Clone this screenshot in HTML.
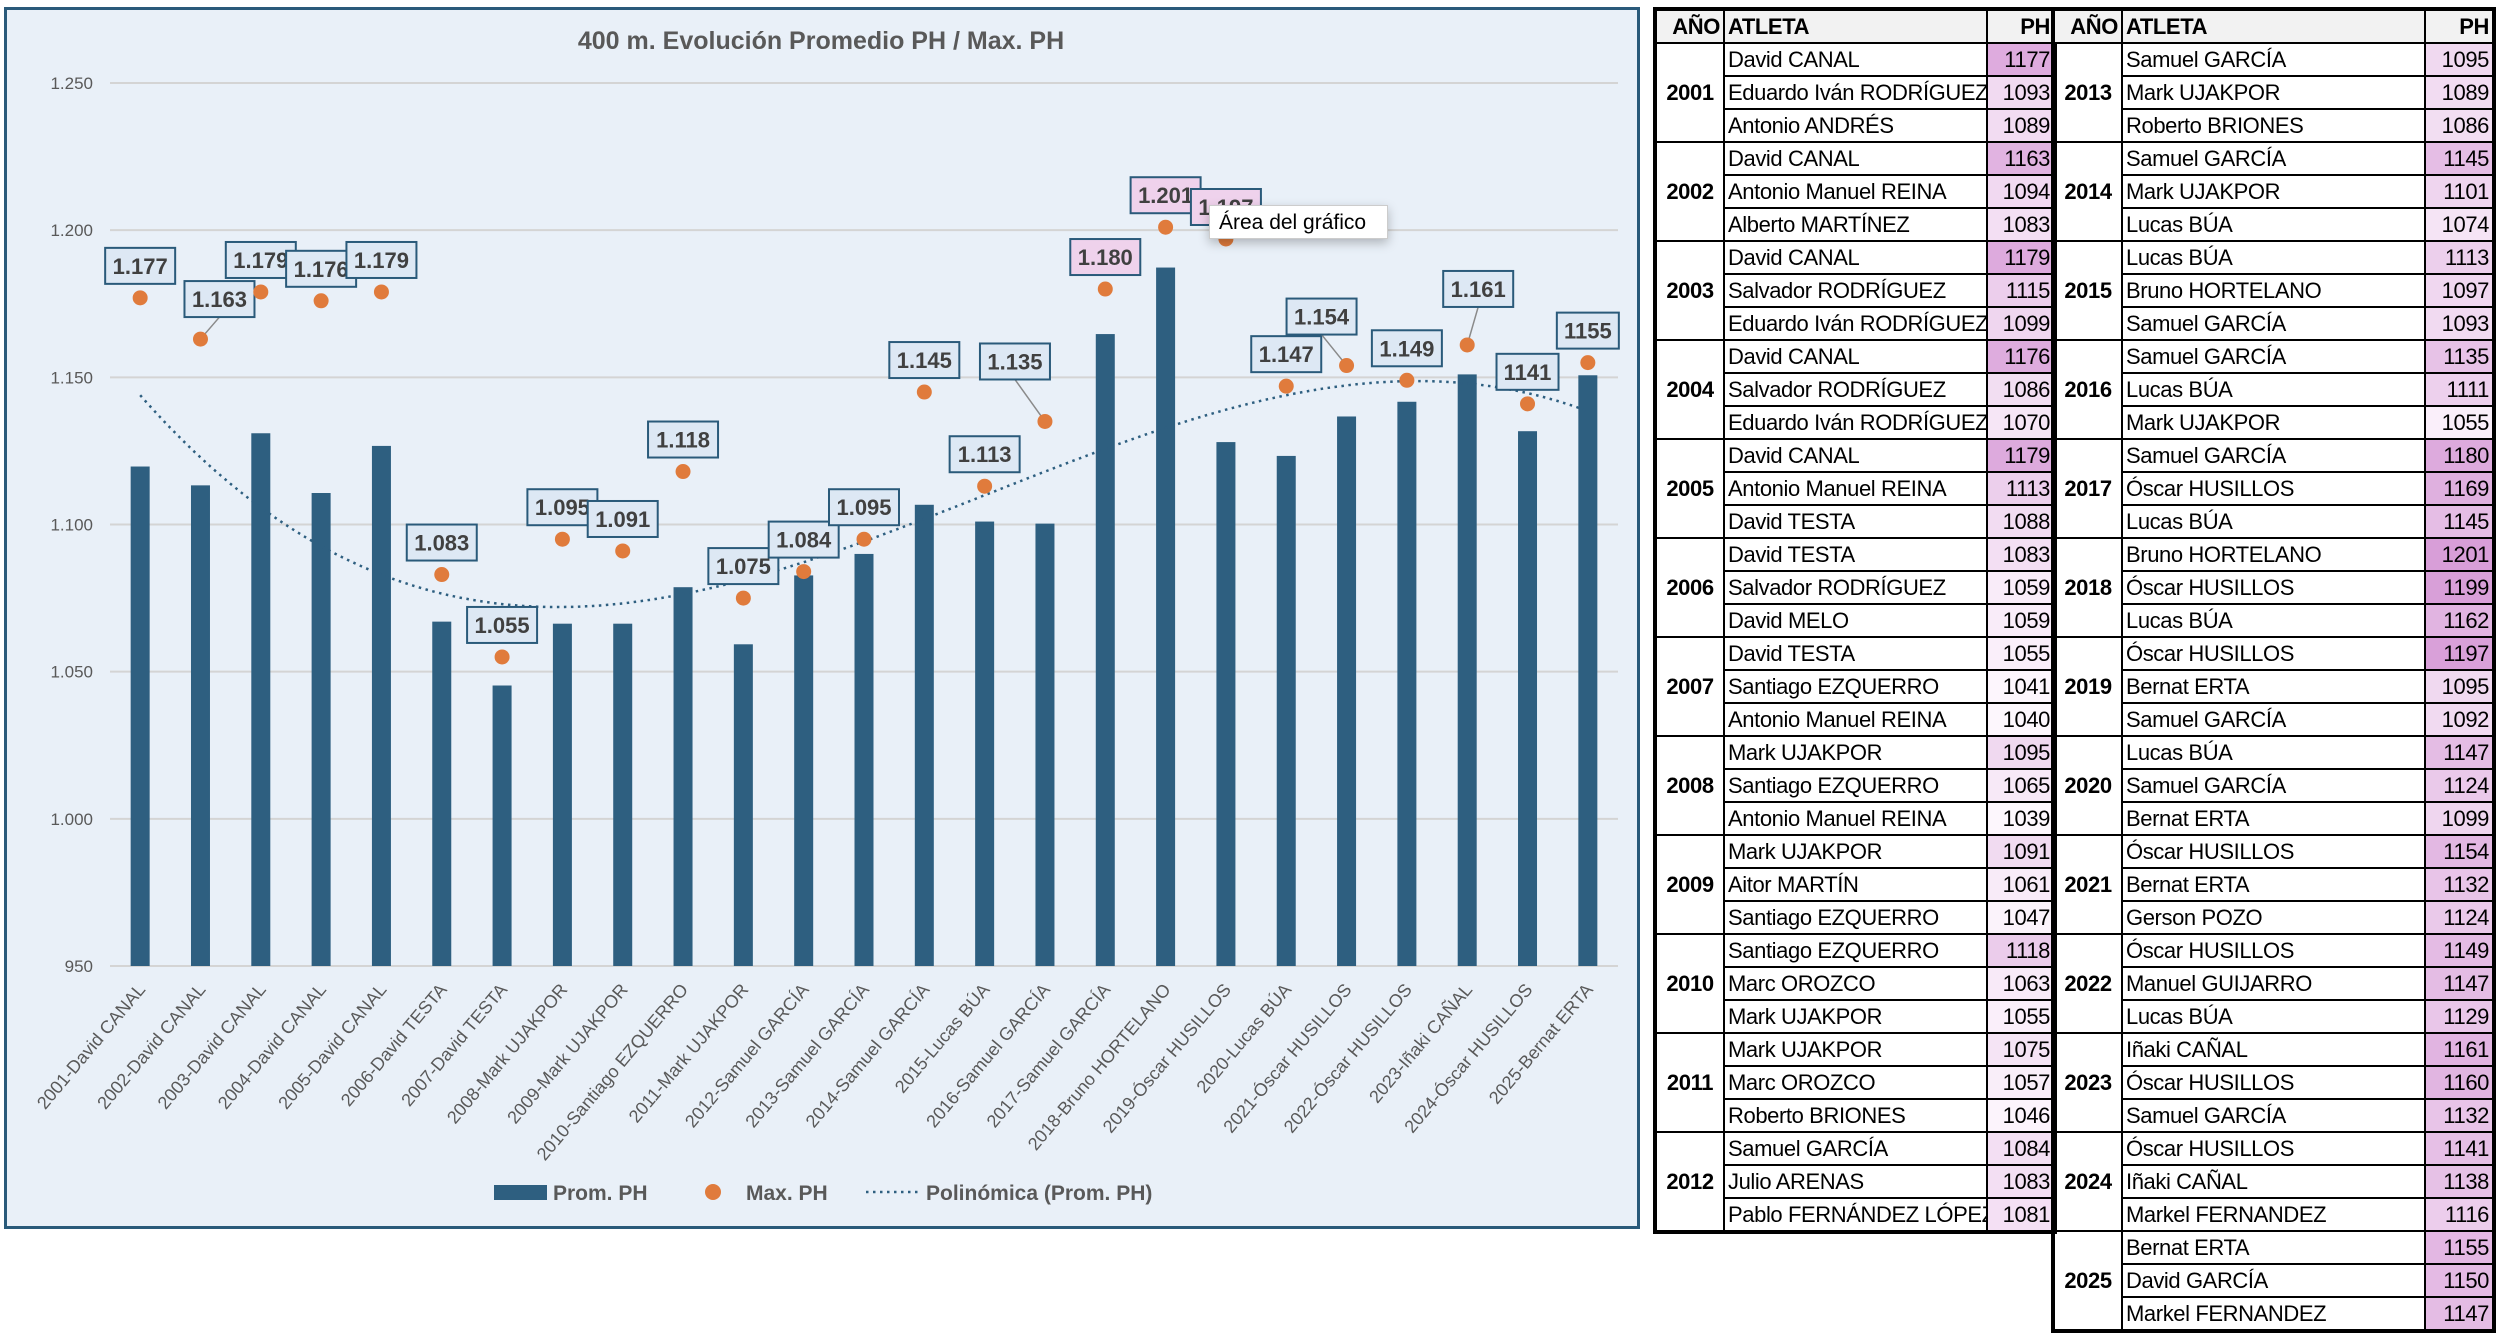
<!DOCTYPE html>
<html><head><meta charset="utf-8">
<style>
html,body{margin:0;padding:0;background:#fff;width:2500px;height:1343px;overflow:hidden;font-family:"Liberation Sans",sans-serif;}
#chart{position:absolute;left:4px;top:7px;width:1630px;height:1216px;border:3px solid #2a5a7a;background:#e9f0f8;}
svg{position:absolute;left:0;top:0;}
.tbl{position:absolute;border-collapse:collapse;font-family:"Liberation Sans",sans-serif;font-size:22px;letter-spacing:-0.4px;color:#000;table-layout:fixed;}
.tbl td,.tbl th{border:2px solid #000;height:31px;padding:0 3px;line-height:31px;white-space:nowrap;overflow:hidden;}
.tbl th{background:#f2f2f2;font-weight:bold;}
.tbl .yr{font-weight:bold;text-align:center;}
.tbl .ph{text-align:right;}
.tbl{border:4px solid #000;}
#tip{position:absolute;left:1209px;top:205px;width:179px;height:34px;background:#fff;border:1px solid #ccc;box-shadow:0 4px 10px rgba(0,0,0,0.25);font-size:21px;line-height:34px;padding-left:9px;box-sizing:border-box;color:#000;}
</style></head>
<body>
<div id="chart"></div>
<svg id="svg" width="2500" height="1343"></svg>
<div id="tip">Área del gráfico</div>
<table class="tbl" id="t1" style="left:1653px;top:7px;width:400px;"></table>
<table class="tbl" id="t2" style="left:2051px;top:7px;width:441px;"></table>
<script>
const categories=["2001-David CANAL","2002-David CANAL","2003-David CANAL","2004-David CANAL","2005-David CANAL","2006-David TESTA","2007-David TESTA","2008-Mark UJAKPOR","2009-Mark UJAKPOR","2010-Santiago EZQUERRO","2011-Mark UJAKPOR","2012-Samuel GARCÍA","2013-Samuel GARCÍA","2014-Samuel GARCÍA","2015-Lucas BÚA","2016-Samuel GARCÍA","2017-Samuel GARCÍA","2018-Bruno HORTELANO","2019-Óscar HUSILLOS","2020-Lucas BÚA","2021-Óscar HUSILLOS","2022-Óscar HUSILLOS","2023-Iñaki CAÑAL","2024-Óscar HUSILLOS","2025-Bernat ERTA"];
const promPH=[1119.7,1113.3,1131,1110.7,1126.7,1067,1045.3,1066.3,1066.3,1078.7,1059.3,1082.7,1090,1106.7,1101,1100.3,1164.7,1187.3,1128,1123.3,1136.7,1141.7,1151,1131.7,1150.7];
const maxPH=[1177,1163,1179,1176,1179,1083,1055,1095,1091,1118,1075,1084,1095,1145,1113,1135,1180,1201,1197,1147,1154,1149,1161,1141,1155];
const maxLabels=["1.177","1.163","1.179","1.176","1.179","1.083","1.055","1.095","1.091","1.118","1.075","1.084","1.095","1.145","1.113","1.135","1.180","1.201","1.197","1.147","1.154","1.149","1.161","1141","1155"];
const yTicks=[950,1000,1050,1100,1150,1200,1250];
const yTickLabels=["950","1.000","1.050","1.100","1.150","1.200","1.250"];
const years=[2001,2002,2003,2004,2005,2006,2007,2008,2009,2010,2011,2012,2013,2014,2015,2016,2017,2018,2019,2020,2021,2022,2023,2024,2025];
const athletes=[["David CANAL","Eduardo Iván RODRÍGUEZ","Antonio ANDRÉS"],["David CANAL","Antonio Manuel REINA","Alberto MARTÍNEZ"],["David CANAL","Salvador RODRÍGUEZ","Eduardo Iván RODRÍGUEZ"],["David CANAL","Salvador RODRÍGUEZ","Eduardo Iván RODRÍGUEZ"],["David CANAL","Antonio Manuel REINA","David TESTA"],["David TESTA","Salvador RODRÍGUEZ","David MELO"],["David TESTA","Santiago EZQUERRO","Antonio Manuel REINA"],["Mark UJAKPOR","Santiago EZQUERRO","Antonio Manuel REINA"],["Mark UJAKPOR","Aitor MARTÍN","Santiago EZQUERRO"],["Santiago EZQUERRO","Marc OROZCO","Mark UJAKPOR"],["Mark UJAKPOR","Marc OROZCO","Roberto BRIONES"],["Samuel GARCÍA","Julio ARENAS","Pablo FERNÁNDEZ LÓPEZ"],["Samuel GARCÍA","Mark UJAKPOR","Roberto BRIONES"],["Samuel GARCÍA","Mark UJAKPOR","Lucas BÚA"],["Lucas BÚA","Bruno HORTELANO","Samuel GARCÍA"],["Samuel GARCÍA","Lucas BÚA","Mark UJAKPOR"],["Samuel GARCÍA","Óscar HUSILLOS","Lucas BÚA"],["Bruno HORTELANO","Óscar HUSILLOS","Lucas BÚA"],["Óscar HUSILLOS","Bernat ERTA","Samuel GARCÍA"],["Lucas BÚA","Samuel GARCÍA","Bernat ERTA"],["Óscar HUSILLOS","Bernat ERTA","Gerson POZO"],["Óscar HUSILLOS","Manuel GUIJARRO","Lucas BÚA"],["Iñaki CAÑAL","Óscar HUSILLOS","Samuel GARCÍA"],["Óscar HUSILLOS","Iñaki CAÑAL","Markel FERNANDEZ"],["Bernat ERTA","David GARCÍA","Markel FERNANDEZ"]];
const marks=[[1177,1093,1089],[1163,1094,1083],[1179,1115,1099],[1176,1086,1070],[1179,1113,1088],[1083,1059,1059],[1055,1041,1040],[1095,1065,1039],[1091,1061,1047],[1118,1063,1055],[1075,1057,1046],[1084,1083,1081],[1095,1089,1086],[1145,1101,1074],[1113,1097,1093],[1135,1111,1055],[1180,1169,1145],[1201,1199,1162],[1197,1095,1092],[1147,1124,1099],[1154,1132,1124],[1149,1147,1129],[1161,1160,1132],[1141,1138,1116],[1155,1150,1147]];

const NS="http://www.w3.org/2000/svg";
const svg=document.getElementById('svg');
const X0=110,X1=1618,Y0=83,Y1=966,VMIN=950,VMAX=1250;
const band=(X1-X0)/categories.length;
const xs=i=>X0+band*(i+0.5);
const ys=v=>Y0+(VMAX-v)*(Y1-Y0)/(VMAX-VMIN);
function mk(tag,attrs,parent){const e=document.createElementNS(NS,tag);for(const k in attrs)e.setAttribute(k,attrs[k]);(parent||svg).appendChild(e);return e;}

let t=mk('text',{x:821,y:49,'text-anchor':'middle','font-size':25,'font-weight':'bold',fill:'#595959','font-family':'Liberation Sans'});
t.textContent='400 m. Evolución Promedio PH / Max. PH';


yTicks.forEach((v,i)=>{
  const g=mk('line',{x1:X0,x2:X1,y1:ys(v),y2:ys(v),stroke:'#d4d4d4','stroke-width':2});
  
  
  const l=mk('text',{x:93,y:ys(v)+6,'text-anchor':'end','font-size':17,fill:'#595959','font-family':'Liberation Sans'});
  l.textContent=yTickLabels[i];
  
  
});
promPH.forEach((v,i)=>{
  const r=mk('rect',{x:xs(i)-9.5,y:ys(v),width:19,height:ys(VMIN)-ys(v),fill:'#2e5f80'});
  
  
});
(function(){
  const n=promPH.length,deg=3;const A=[],b=[];
  for(let r=0;r<=deg;r++){A.push([]);for(let c=0;c<=deg;c++){let s=0;for(let i=0;i<n;i++)s+=Math.pow(i+1,r+c);A[r].push(s);}let s=0;for(let i=0;i<n;i++)s+=promPH[i]*Math.pow(i+1,r);b.push(s);}
  for(let p=0;p<=deg;p++){for(let r=p+1;r<=deg;r++){const f=A[r][p]/A[p][p];for(let c=p;c<=deg;c++)A[r][c]-=f*A[p][c];b[r]-=f*b[p];}}
  const co=new Array(deg+1).fill(0);
  for(let r=deg;r>=0;r--){let s=b[r];for(let c=r+1;c<=deg;c++)s-=A[r][c]*co[c];co[r]=s/A[r][r];}
  let d='';for(let k=0;k<=240;k++){const xv=1+k*(n-1)/240;let yv=0;for(let p=0;p<=deg;p++)yv+=co[p]*Math.pow(xv,p);d+=(k?'L':'M')+(xs(xv-1)).toFixed(1)+','+ys(yv).toFixed(1);}
  const p=mk('path',{d:d,fill:'none',stroke:'#2e5f80','stroke-width':2.5,'stroke-dasharray':'2.5,4.5'});
  
  
})();
const offDx={1:19,15:-30,20:-25,22:11};
const offDy={1:-40,15:-60,20:-49,22:-56};
maxPH.forEach((v,i)=>{
  const cx=xs(i),cy=ys(v);
  const dx=offDx[i]||0,dy=offDy[i]||-32;
  const bx=cx+dx,by=cy+dy;
  if(offDx[i]){const ln=mk('line',{x1:cx,y1:cy,x2:bx,y2:by+18,stroke:'#8a8a8a','stroke-width':1.5});
    
    }
  const pink=v>=1180;
  const w=maxLabels[i].length>4?70:62;
  const r=mk('rect',{x:bx-w/2,y:by-18,width:w,height:36,fill:pink?'#efd2ec':'#dde8f4',stroke:'#2a5a7a','stroke-width':2});
  
  
  const tx=mk('text',{x:bx,y:by+8,'text-anchor':'middle','font-size':22,'font-weight':'bold',fill:'#404040','font-family':'Liberation Sans'});
  tx.textContent=maxLabels[i];
  
  
  const c=mk('circle',{cx:cx,cy:cy,r:7.5,fill:'#e07b3c'});
  
  
});
categories.forEach((s,i)=>{
  const x=xs(i)+6,y=990;
  const tl=mk('text',{x:x,y:y,'text-anchor':'end','font-size':18,fill:'#595959','font-family':'Liberation Sans',transform:'rotate(-50 '+x+' '+y+')'});
  tl.textContent=s;
  
  
});
let lg=mk('rect',{x:494,y:1185,width:53,height:15,fill:'#2e5f80'});


lg=mk('text',{x:553,y:1200,'font-size':21,'font-weight':'bold',fill:'#595959','font-family':'Liberation Sans'});lg.textContent='Prom. PH';


lg=mk('circle',{cx:713,cy:1192,r:8,fill:'#e07b3c'});


lg=mk('text',{x:746,y:1200,'font-size':21,'font-weight':'bold',fill:'#595959','font-family':'Liberation Sans'});lg.textContent='Max. PH';


lg=mk('line',{x1:866,x2:920,y1:1192,y2:1192,stroke:'#2e5f80','stroke-width':2.5,'stroke-dasharray':'2.5,4.5'});


lg=mk('text',{x:926,y:1200,'font-size':21,'font-weight':'bold',fill:'#595959','font-family':'Liberation Sans'});lg.textContent='Polinómica (Prom. PH)';



function phColor(v){const f=Math.max(0,Math.min(1,(v-1040)/(1201-1040)));const a=[253,247,253],b=[216,158,216];return 'rgb('+a.map((c,k)=>Math.round(c+(b[k]-c)*f)).join(',')+')';}
function build(tbl,from,to,widths){
  const cg=document.createElement('colgroup');
  widths.forEach(w=>{const c=document.createElement('col');c.style.width=w+'px';cg.appendChild(c);});
  tbl.appendChild(cg);
  const hr=document.createElement('tr');
  ['AÑO','ATLETA','PH'].forEach((h,k)=>{const th=document.createElement('th');th.textContent=h;th.style.textAlign=k==1?'left':'right';
    
    
    hr.appendChild(th);});
  tbl.appendChild(hr);
  for(let i=from;i<=to;i++){for(let j=0;j<3;j++){
    const tr=document.createElement('tr');
    if(j==0){const y=document.createElement('td');y.rowSpan=3;y.className='yr';y.textContent=years[i];
      
      
      tr.appendChild(y);}
    const a=document.createElement('td');a.textContent=athletes[i][j];
    
    
    tr.appendChild(a);
    const p=document.createElement('td');p.className='ph';p.textContent=marks[i][j];p.style.background=phColor(marks[i][j]);
    
    
    tr.appendChild(p);
    tbl.appendChild(tr);}}
}
build(document.getElementById('t1'),0,11,[69,263,68]);
build(document.getElementById('t2'),12,24,[69,303,69]);
</script>
</body></html>
